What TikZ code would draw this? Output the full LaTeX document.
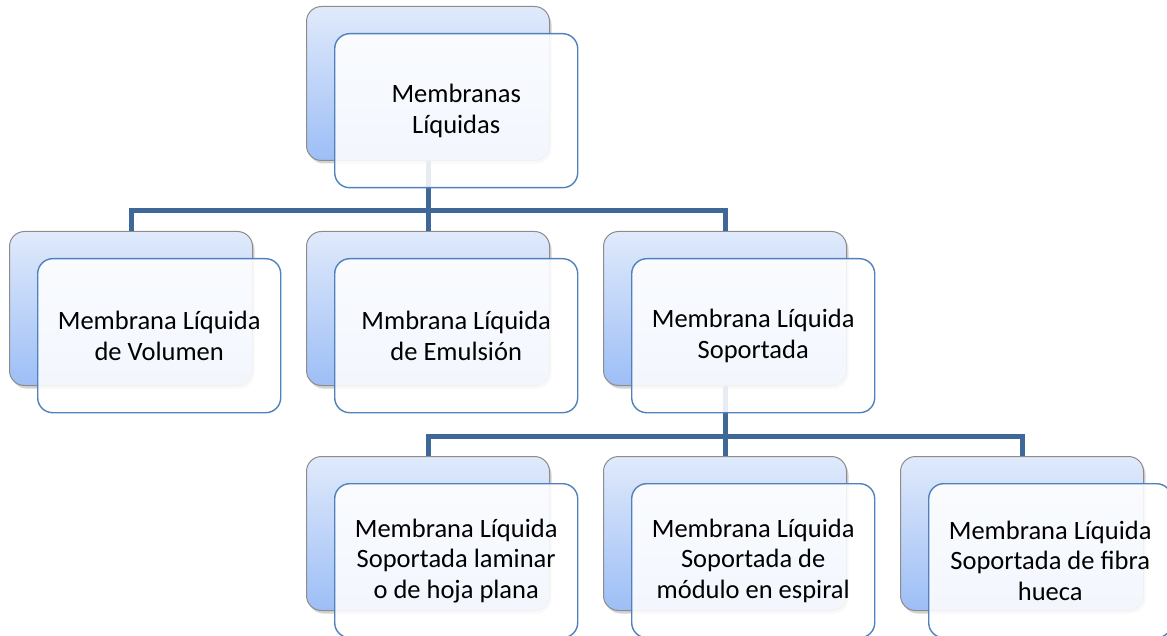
\documentclass[tikz,border=0pt]{standalone}
\usepackage{fontspec}
\setmainfont{Carlito}
\usetikzlibrary{shadows}
\definecolor{conncol}{HTML}{3F6797}
\definecolor{frontline}{HTML}{4F81BD}
\definecolor{backtop}{HTML}{E0EAFB}
\definecolor{backbot}{HTML}{9DBEF6}
\definecolor{backline}{HTML}{8C8C8C}
\tikzset{
  backbox/.style={draw=backline, line width=1pt, rounded corners=15pt,
    top color=backtop, bottom color=backbot, minimum width=243pt, minimum height=154pt,
    anchor=north west, inner sep=0pt,
    drop shadow={shadow xshift=2pt, shadow yshift=-3pt, opacity=0.35}},
  frontbox/.style={draw=frontline, line width=1.4pt, rounded corners=15pt,
    fill=white, fill opacity=0.88, text opacity=1, minimum width=243pt, minimum height=154pt,
    anchor=north west, inner sep=0pt, align=center,
    font=\fontsize{26.5}{30.5}\selectfont},
  conn/.style={draw=conncol, line width=5pt}
}
\begin{document}
\begin{tikzpicture}[x=1pt,y=-1pt]
\useasboundingbox (0,0) rectangle (1167,636);
% back boxes
\node[backbox] (b0) at (306,6) {};
\node[backbox] (b1) at (9,231) {};
\node[backbox] (b2) at (306,231) {};
\node[backbox] (b3) at (603,231) {};
\node[backbox] (b4) at (306,456) {};
\node[backbox] (b5) at (603,456) {};
\node[backbox] (b6) at (900,456) {};
% connectors
\draw[conn] (b0.south) -- ++(0,50) -| (b1.north);
\draw[conn] (b0.south) -- ++(0,50) -| (b3.north);
\draw[conn] (b0.south) -- (b2.north);
\draw[conn] (b3.south) -- ++(0,50) -| (b4.north);
\draw[conn] (b3.south) -- ++(0,50) -| (b6.north);
\draw[conn] (b3.south) -- (b5.north);
% front boxes
\node[frontbox] (f0) at (334,33) {Membranas\\Líquidas};
\node[frontbox] (f1) at (37,258) {Membrana Líquida\\de Volumen};
\node[frontbox] (f2) at (334,258) {Mmbrana Líquida\\de Emulsión};
\node[frontbox] (f3) at (631,258) {Membrana Líquida\\Soportada};
\node[frontbox] (f4) at (334,483) {Membrana Líquida\\Soportada laminar\\o de hoja plana};
\node[frontbox] (f5) at (631,483) {Membrana Líquida\\Soportada de\\módulo en espiral};
\node[frontbox] (f6) at (928,483) {Membrana Líquida\\Soportada de fibra\\hueca};
\end{tikzpicture}
\end{document}
